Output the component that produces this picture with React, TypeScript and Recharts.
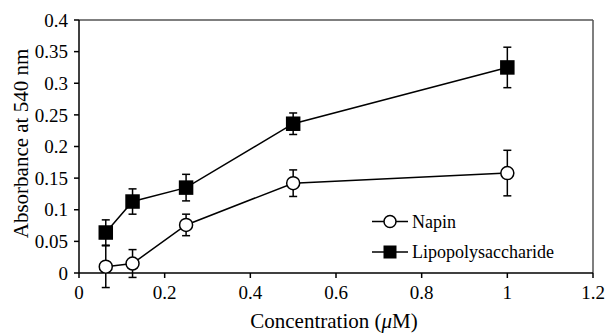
import React from "react";
import {
  LineChart,
  Line,
  XAxis,
  YAxis,
  ErrorBar,
  ReferenceLine,
  Label,
} from "recharts";

const concentration = [0.0625, 0.125, 0.25, 0.5, 1];
const napin = [0.01, 0.015, 0.076, 0.142, 0.158];
const napinErr = [0.033, 0.022, 0.017, 0.021, 0.036];
const lps = [0.064, 0.113, 0.135, 0.236, 0.325];
const lpsErr = [0.02, 0.02, 0.021, 0.017, 0.032];

const xTicks = [0, 0.2, 0.4, 0.6, 0.8, 1, 1.2];
const yTicks = [0, 0.05, 0.1, 0.15, 0.2, 0.25, 0.3, 0.35, 0.4];
const seriesNames = ["Napin", "Lipopolysaccharide"];

const data = concentration.map((c, i) => ({
  c,
  napin: napin[i],
  napinErr: napinErr[i],
  lps: lps[i],
  lpsErr: lpsErr[i],
}));

const FONT = "Liberation Serif";

function CircleDot(p: any) {
  if (p.cx == null || p.cy == null) return null;
  return (
    <circle cx={p.cx} cy={p.cy} r={6.5} fill="#fff" stroke="#000" strokeWidth={1.5} />
  );
}

function SquareDot(p: any) {
  if (p.cx == null || p.cy == null) return null;
  return <rect x={p.cx - 7.25} y={p.cy - 7.25} width={14.5} height={14.5} fill="#000" />;
}

// legend sits inside the plot, bottom right
function ChartLegend() {
  return (
    <svg width={210} height={62} style={{ position: "absolute", left: 372, top: 207 }}>
      {seriesNames.map((name, i) => {
        const y = 14.5 + i * 30.5;
        return (
          <g key={name}>
            <line x1={0} x2={36} y1={y} y2={y} stroke="#000" strokeWidth={1.5} />
            {i === 0 ? (
              <circle cx={18} cy={y} r={6} fill="#fff" stroke="#000" strokeWidth={1.5} />
            ) : (
              <rect x={11.5} y={y - 6.5} width={13} height={13} fill="#000" />
            )}
            <text x={40} y={y} dy="0.36em" fontFamily={FONT} fontSize={18} fill="#000">
              {name}
            </text>
          </g>
        );
      })}
    </svg>
  );
}

export default function App() {
  const tick = { fill: "#000", fontSize: 19, fontFamily: FONT };
  return (
    <div
      style={{
        position: "fixed",
        left: 0,
        top: 0,
        width: 607,
        height: 333,
        background: "#fff",
      }}
    >
      <LineChart
        width={607}
        height={333}
        data={data}
        margin={{ top: 20, right: 14, bottom: 0, left: 0 }}
      >
        <XAxis
          dataKey="c"
          type="number"
          domain={[0, 1.2]}
          ticks={xTicks}
          tickFormatter={(v: number) => String(v)}
          tick={tick}
          tickSize={5}
          tickMargin={8}
          height={60}
          stroke="#000"
          strokeWidth={1.5}
        >
          <Label
            content={(props: any) => {
              const vb = props.viewBox || {};
              return (
                <text
                  x={vb.x + vb.width / 2 - 2}
                  y={vb.y + vb.height - 5}
                  textAnchor="middle"
                  fontFamily={FONT}
                  fontSize={21}
                  fill="#000"
                >
                  Concentration (<tspan fontStyle="italic">μ</tspan>M)
                </text>
              );
            }}
          />
        </XAxis>
        <YAxis
          type="number"
          domain={[0, 0.4]}
          allowDataOverflow
          ticks={yTicks}
          tick={tick}
          tickSize={5}
          tickMargin={6}
          width={79}
          stroke="#000"
          strokeWidth={1.5}
        >
          <Label
            content={(props: any) => {
              const vb = props.viewBox || {};
              const cx = vb.x + 21;
              const cy = vb.y + vb.height / 2 - 3;
              return (
                <text
                  x={cx}
                  y={cy}
                  transform={`rotate(-90 ${cx} ${cy})`}
                  textAnchor="middle"
                  dy="0.35em"
                  fontFamily={FONT}
                  fontSize={21}
                  fill="#000"
                >
                  Absorbance at 540 nm
                </text>
              );
            }}
          />
        </YAxis>
        <ReferenceLine y={0.4} stroke="#555" strokeWidth={1.5} />
        <ReferenceLine x={1.2} stroke="#555" strokeWidth={1.5} />
        <Line
          dataKey="napin"
          name={seriesNames[0]}
          stroke="#000"
          strokeWidth={1.5}
          dot={<CircleDot />}
          isAnimationActive={false}
        >
          <ErrorBar dataKey="napinErr" direction="y" width={4} stroke="#000" strokeWidth={1.5} />
        </Line>
        <Line
          dataKey="lps"
          name={seriesNames[1]}
          stroke="#000"
          strokeWidth={1.5}
          dot={<SquareDot />}
          isAnimationActive={false}
        >
          <ErrorBar dataKey="lpsErr" direction="y" width={4} stroke="#000" strokeWidth={1.5} />
        </Line>
      </LineChart>
      <ChartLegend />
    </div>
  );
}
